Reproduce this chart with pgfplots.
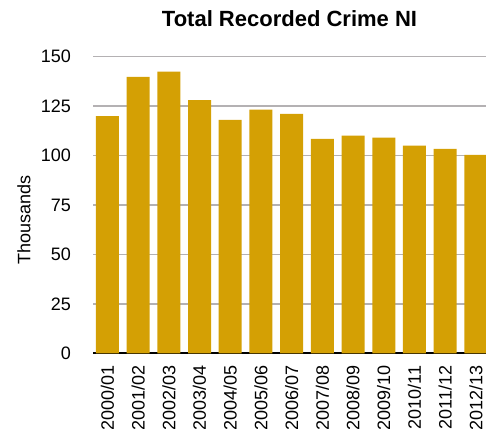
\documentclass[border=0pt]{standalone}
\usepackage{pgfplots}
\pgfplotsset{compat=1.18}
\usepackage{fontspec}
\setmainfont{Liberation Sans}
\definecolor{barcol}{RGB}{212,160,4}
\definecolor{gridcol}{RGB}{180,177,179}
\begin{document}
\begin{tikzpicture}
\useasboundingbox (0,0) rectangle (486pt,428pt);
\begin{axis}[
  at={(93pt,74.7pt)}, anchor=south west,
  scale only axis, width=393pt, height=296.6pt,
  xmin=-0.47, xmax=12.33, ymin=0, ymax=150,
  ybar, bar width=23pt, bar shift=0pt,
  xtick={0,...,12},
  xticklabels={2000/01,2001/02,2002/03,2003/04,2004/05,2005/06,2006/07,2007/08,2008/09,2009/10,2010/11,2011/12,2012/13},
  ytick={0,25,...,150},
  ymajorgrids, grid style={gridcol, line width=1.6pt},
  axis x line*=bottom, axis y line*=left,
  x axis line style={-, black, line width=2pt},
  y axis line style={draw=none},
  major tick length=0pt,
  /pgf/number format/assume math mode=true,
  yticklabel style={font=\fontsize{18}{20}\selectfont, anchor=east, inner sep=0pt, xshift=-22pt},
  xticklabel style={font=\fontsize{18}{20}\selectfont, yshift=-12pt, rotate=90, anchor=east, inner sep=0pt, overlay},
  title={Total Recorded Crime NI},
  title style={at={(axis description cs:0.5,1)}, anchor=base, yshift=24pt, font=\bfseries\fontsize{22}{24}\selectfont},
  ylabel={Thousands},
  every axis y label/.style={at={(axis description cs:0,0.45)}, xshift=-69pt, rotate=90, anchor=center, font=\fontsize{18}{20}\selectfont},
]
\addplot[fill=barcol, draw=none] coordinates {
(0,119.9) (1,139.8) (2,142.5) (3,128.0) (4,118.1) (5,123.2) (6,121.1)
(7,108.5) (8,110.1) (9,109.1) (10,105.0) (11,103.4) (12,100.4)};
\end{axis}
\end{tikzpicture}
\end{document}
